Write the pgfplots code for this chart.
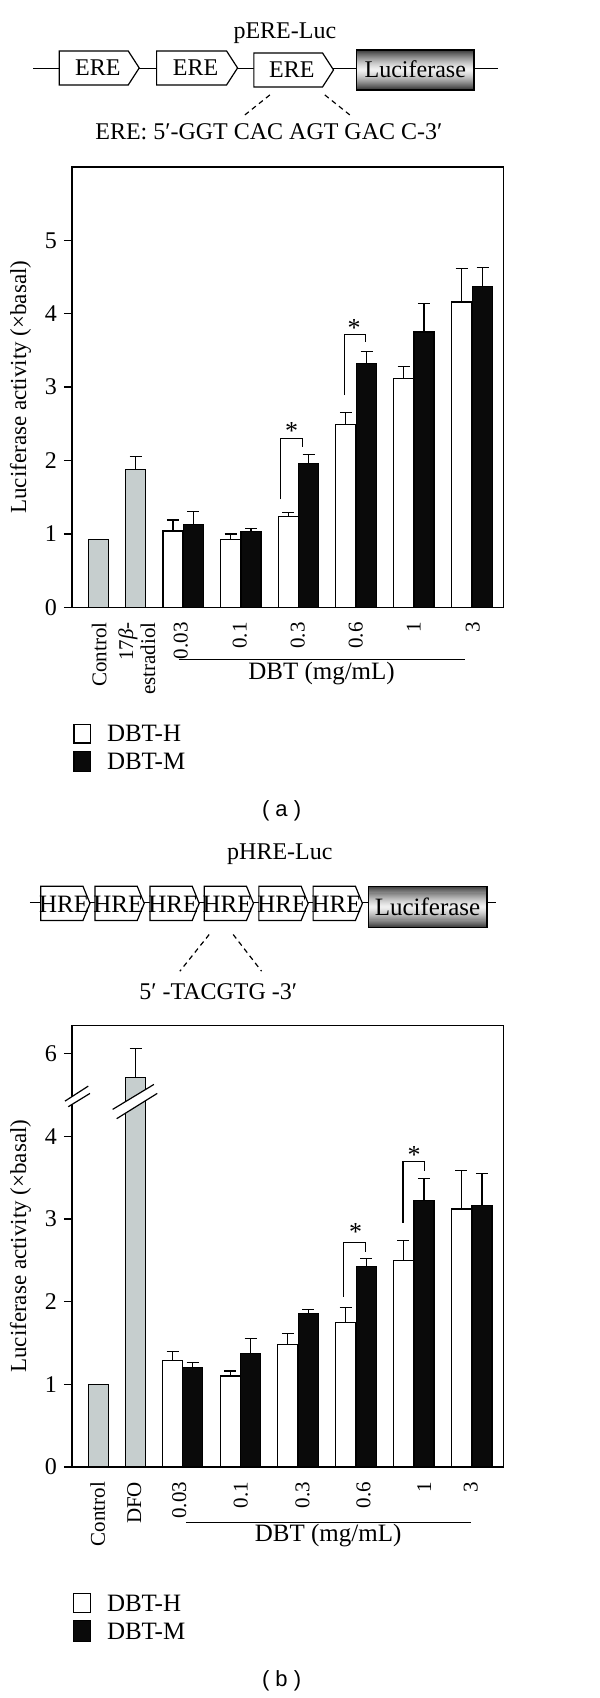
\documentclass[border=0pt]{standalone}
\usepackage{pgfplots}
\pgfplotsset{compat=1.18}
\usepackage{fontspec}
\setmainfont{Liberation Serif}
\newfontfamily\capfont{Liberation Sans}
\definecolor{bargray}{RGB}{198,206,206}
\definecolor{barblack}{RGB}{10,10,10}

\pgfplotsset{
  panel/.style={
    scale only axis,
    width=216pt,
    xmin=72, xmax=504,
    ymin=0,
    axis line style={line width=0.7pt},
    tick align=outside,
    tick pos=left,
    major tick length=4pt,
    ytick style={line width=0.7pt, black},
    xtick style={draw=none},
    yticklabel style={font=\fontsize{12}{13}\selectfont},
    /pgf/number format/assume math mode=true,
    xticklabel style={rotate=90, anchor=east, align=right, font=\fontsize{10.5}{11}\selectfont, yshift=-0.5pt},
    ylabel={Luciferase activity (×basal)},
    ylabel style={font=\fontsize{11.5}{13}\selectfont},
    clip=false,
  },
  barset/.style={ybar, bar width=20, bar shift=0pt, draw=black, line width=0.6pt},
  errs/.style={error bars/y dir=plus, error bars/y explicit, error bars/error mark=-,
    error bars/error bar style={line width=0.6pt, black},
    error bars/error mark options={rotate=90, mark size=3pt, line width=0.6pt, black}},
}
\newcommand\lucbox[4]{% x1,y1,x2,y2 (pixel units, y down)
  \foreach \i in {0,...,39}{
    \pgfmathsetmacro\dd{abs(((\i+0.5)/40-0.5)*2)}
    \pgfmathsetmacro\pp{6+74*pow(\dd,1.4)}
    \fill[black!\pp] (#1,{#2+\i*(#4-#2)/40}) rectangle (#3,{#2+(\i+1)*(#4-#2)/40+0.3});
  }
  \draw[line width=0.6pt] (#1,#2) rectangle (#3,#4);
}

\begin{document}
\begin{tikzpicture}
% ---------------- panel (a) ----------------
\begin{axis}[panel, at={(36pt,-303.85pt)}, anchor=south west,
  height=220.35pt, ymax=6, ytick={0,1,2,3,4,5},
  xtick={98.3,136,180,239,297,355,413,472},
  xticklabels={Control,{17\textit{β}-\\estradiol},0.03,0.1,0.3,0.6,1,3}]
\addplot[barset, fill=bargray] coordinates {(98.3,0.93)};
\addplot[barset, fill=bargray, errs] coordinates {(135.7,1.88) +- (0,0.17)};
% DBT-H
\addplot[barset, fill=white, errs] coordinates {
 (173,1.04) +- (0,0.15)
 (230.7,0.92) +- (0,0.08)
 (288.5,1.24) +- (0,0.05)
 (346,2.49) +- (0,0.17)
 (403.8,3.12) +- (0,0.16)
 (461.8,4.16) +- (0,0.46)};
% DBT-M
\addplot[barset, fill=barblack, errs] coordinates {
 (193.5,1.13) +- (0,0.18)
 (251.2,1.03) +- (0,0.04)
 (308.8,1.96) +- (0,0.12)
 (366.7,3.32) +- (0,0.17)
 (424.2,3.75) +- (0,0.39)
 (482.8,4.37) +- (0,0.26)};
\draw[line width=0.6pt] (axis cs:281,1.47) |- (axis cs:302.3,2.30) -- (axis cs:302.3,2.18);
\node[font=\fontsize{13}{13}\selectfont] at (axis cs:291.7,2.40) {*};
\draw[line width=0.6pt] (axis cs:344.3,2.89) |- (axis cs:366,3.72) -- (axis cs:366,3.61);
\node[font=\fontsize{13}{13}\selectfont] at (axis cs:354.3,3.81) {*};
\end{axis}

% ---------------- panel (b) ----------------
\begin{axis}[panel, at={(36pt,-733.85pt)}, anchor=south west,
  height=220.85pt, ymax=5.34, ytick={0,1,2,3,4,5}, yticklabels={0,1,2,3,4,6},
  xtick={96.7,133.3,178.3,240,301.7,362.7,423.3,470},
  xticklabels={Control,DFO,0.03,0.1,0.3,0.6,1,3}]
\addplot[barset, fill=bargray] coordinates {(98.3,1.00)};
% DFO drawn on the broken scale (5.71 shown at 4.71)
\addplot[barset, fill=bargray, errs] coordinates {(135.7,4.71) +- (0,0.35)};
% DBT-H
\addplot[barset, fill=white, errs] coordinates {
 (172.7,1.29) +- (0,0.11)
 (230.3,1.10) +- (0,0.06)
 (288,1.48) +- (0,0.13)
 (345.8,1.75) +- (0,0.18)
 (403.7,2.50) +- (0,0.24)
 (461.5,3.12) +- (0,0.47)};
% DBT-M
\addplot[barset, fill=barblack, errs] coordinates {
 (192.8,1.20) +- (0,0.06)
 (250.8,1.37) +- (0,0.18)
 (308.5,1.86) +- (0,0.04)
 (366.5,2.42) +- (0,0.10)
 (424.2,3.22) +- (0,0.27)
 (482.2,3.16) +- (0,0.39)};
\draw[line width=0.6pt] (axis cs:344,2.06) |- (axis cs:366,2.71) -- (axis cs:366,2.60);
\node[font=\fontsize{13}{13}\selectfont] at (axis cs:355.7,2.84) {*};
\draw[line width=0.6pt] (axis cs:403.3,2.955) |- (axis cs:425,3.69) -- (axis cs:425,3.58);
\node[font=\fontsize{13}{13}\selectfont] at (axis cs:414.3,3.77) {*};
\end{axis}

% ---------------- annotations in reference-pixel units ----------------
\begin{scope}[x=0.5pt,y=-0.5pt]
\path (0,0) rectangle (600,1698);
\tikzset{lw/.style={line width=0.6pt}}
% diagram (a)
\draw[lw] (33.3,68.3) -- (498.3,68.3);
\foreach \a/\b in {59.3/128.3, 156.7/226.7}{
  \draw[lw, fill=white] (\a,51) -- (\b,51) -- (\b+11,68) -- (\b,85) -- (\a,85) -- cycle;
  \node[font=\fontsize{12}{12}\selectfont] at ({(\a+\b)/2+4},68) {ERE};
}
\draw[lw, fill=white] (254,53) -- (322.7,53) -- (333.7,70) -- (322.7,87) -- (254,87) -- cycle;
\node[font=\fontsize{12}{12}\selectfont] at (292,70) {ERE};
\lucbox{356.7}{50}{474.3}{90}
\node[font=\fontsize{12}{12}\selectfont] at (415.5,69) {Luciferase};
\node[font=\fontsize{12}{12}\selectfont] at (285,33.3) {pERE-Luc};
\draw[lw, dash pattern=on 2.5pt off 2pt] (270,95) -- (245,115);
\draw[lw, dash pattern=on 2.5pt off 2pt] (325,95) -- (350,115);
\node[font=\fontsize{12}{12}\selectfont] at (269,131.7) {ERE: 5′-GGT CAC AGT GAC C-3′};
% x-group line (a)
\draw[lw] (179.3,660) -- (465,660);
\node[font=\fontsize{12.5}{12}\selectfont] at (321.7,674.3) {DBT (mg/mL)};
% legend (a)
\draw[lw, fill=white] (74,725) rectangle (90.7,743.3);
\draw[lw, fill=barblack] (74,751.7) rectangle (90.7,771.7);
\node[anchor=west, font=\fontsize{12.5}{12}\selectfont] at (100,734) {DBT-H};
\node[anchor=west, font=\fontsize{12.5}{12}\selectfont] at (100,762) {DBT-M};
\node[font=\capfont\fontsize{11}{11}\selectfont] at (281.7,811) {( a )};

% diagram (b)
\draw[lw] (30,903.3) -- (368.3,903.3);
\draw[lw] (487.3,903.3) -- (496,903.3);
\foreach \a in {40.7,95,150,204.3,259,313.3}{
  \draw[lw, fill=white] (\a,886.7) -- (\a+42.3,886.7) -- (\a+49.3,903.8) -- (\a+42.3,921) -- (\a,921) -- cycle;
  \node[font=\fontsize{12.5}{12}\selectfont] at (\a+23.5,904.3) {HRE};
}
\lucbox{368.3}{886.7}{487.3}{928.3}
\node[font=\fontsize{12.5}{12}\selectfont] at (427.8,907.5) {Luciferase};
\node[font=\fontsize{12}{12}\selectfont] at (280,855) {pHRE-Luc};
\draw[lw, dash pattern=on 2.5pt off 2pt] (209.3,935) -- (180,971.7);
\draw[lw, dash pattern=on 2.5pt off 2pt] (233.3,935) -- (261.7,971.7);
\node[font=\fontsize{12}{12}\selectfont] at (218.3,991.7) {5′ -TACGTG -3′};
% axis break marks (b)
\fill[white] (65,1101.7) -- (88.3,1086.7) -- (90,1094) -- (68.3,1107.3) -- cycle;
\draw[lw] (65,1101.7) -- (88.3,1086.7);
\draw[lw] (68.3,1107.3) -- (90,1094);
\fill[white] (112.7,1110) -- (154,1085) -- (157.3,1094) -- (116.7,1119.3) -- cycle;
\draw[lw] (112.7,1110) -- (154,1085);
\draw[lw] (116.7,1119.3) -- (157.3,1094);
% x-group line (b)
\draw[lw] (186,1523.3) -- (471.7,1523.3);
\node[font=\fontsize{12.5}{12}\selectfont] at (328.3,1536.7) {DBT (mg/mL)};
% legend (b)
\draw[lw, fill=white] (73.3,1594.3) rectangle (90.7,1613.3);
\draw[lw, fill=barblack] (73.3,1621.7) rectangle (90.7,1642.3);
\node[anchor=west, font=\fontsize{12.5}{12}\selectfont] at (100,1603.8) {DBT-H};
\node[anchor=west, font=\fontsize{12.5}{12}\selectfont] at (100,1632) {DBT-M};
\node[font=\capfont\fontsize{11}{11}\selectfont] at (281.7,1682) {( b )};
\end{scope}
\end{tikzpicture}
\end{document}
